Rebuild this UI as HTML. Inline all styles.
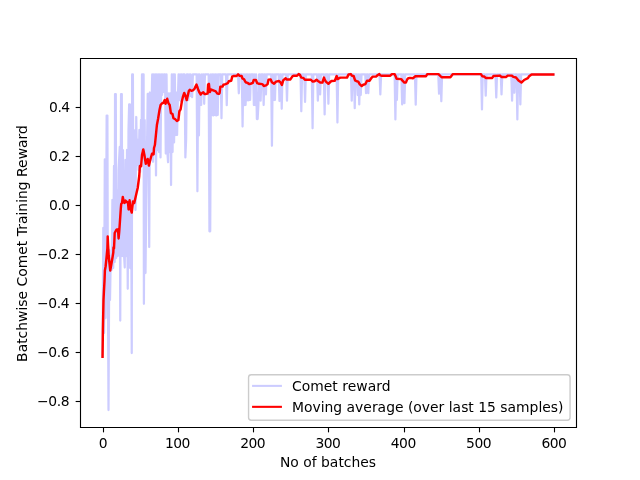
<!DOCTYPE html>
<html lang="en"><head><meta charset="utf-8"><title>Comet training reward</title>
<style>html,body{margin:0;padding:0;background:#fff}body{width:640px;height:480px;overflow:hidden}svg{display:block}text{font-family:"DejaVu Sans","Liberation Sans",sans-serif;font-size:13.889px;fill:#000}</style></head><body>
<svg width="640" height="480" viewBox="0 0 640 480">
<rect width="640" height="480" fill="#fff"/>
<clipPath id="c"><rect x="80" y="57.6" width="496" height="369.6"/></clipPath>
<g clip-path="url(#c)" fill="none" stroke-linejoin="round" stroke-linecap="square" stroke-width="2.083">
<polyline stroke="#0000ff" stroke-opacity="0.2" stroke-width="2.25" points="102.55,356.70 103.30,228.00 104.05,333.00 104.80,159.40 105.56,318.00 106.30,200.00 106.65,115.60 107.40,115.60 107.80,260.00 108.50,410.00 109.30,250.00 110.00,300.00 110.80,256.00 111.60,270.00 112.40,200.00 113.20,268.00 114.00,166.00 114.70,262.00 115.05,94.00 115.80,94.00 116.20,258.00 117.00,190.00 117.80,256.00 118.60,170.00 119.75,147.00 120.25,320.50 121.05,94.00 121.80,94.00 122.20,256.00 123.00,150.00 123.80,251.00 124.75,267.50 125.50,160.00 126.30,256.00 127.00,150.00 127.75,288.75 128.50,130.00 129.15,104.40 129.90,104.40 130.20,268.00 131.00,140.00 131.75,353.00 132.15,74.40 132.90,74.40 133.30,200.00 134.00,130.00 134.75,170.00 135.50,210.00 136.25,117.00 137.00,165.00 137.80,140.00 138.60,170.00 139.40,130.00 140.20,172.00 141.00,120.00 141.60,150.00 142.00,74.40 142.90,74.40 143.60,74.40 143.90,303.75 144.70,120.00 145.50,273.00 146.30,200.00 147.72,93.90 148.47,93.90 149.22,247.00 149.98,92.50 150.73,160.00 151.48,110.00 152.23,74.40 152.99,161.80 153.74,74.40 154.49,150.00 155.25,74.40 156.00,175.40 156.75,74.40 157.50,150.00 158.26,74.40 159.01,152.00 159.76,74.40 160.52,157.40 161.27,74.40 162.02,95.00 162.77,74.40 163.53,92.00 164.28,74.40 165.03,74.40 165.79,153.50 166.54,74.40 167.29,150.00 168.04,162.25 168.80,93.40 169.55,152.00 170.30,93.40 171.05,185.00 171.81,74.40 172.56,152.00 173.31,74.40 174.07,142.40 174.82,74.40 175.57,135.00 176.32,92.50 177.08,135.00 177.83,100.00 178.58,74.40 179.34,100.00 180.09,74.40 180.84,101.00 181.59,74.40 182.35,100.00 183.10,74.40 183.85,74.40 184.61,74.40 185.36,157.40 186.11,139.75 186.86,74.40 187.62,74.40 188.37,100.00 189.12,74.40 189.87,96.00 190.63,74.40 191.38,96.00 192.13,97.00 192.89,74.40 193.64,74.40 194.39,74.40 195.14,74.40 195.90,74.40 196.65,74.40 197.40,191.25 198.16,74.40 198.91,135.40 199.66,74.40 200.41,90.00 201.17,105.00 201.92,74.40 202.67,92.00 203.43,74.40 204.18,103.80 204.93,74.40 205.68,74.40 206.44,74.40 207.19,74.40 207.94,74.40 208.69,74.40 209.45,231.25 210.20,231.25 210.95,74.40 211.71,115.00 212.46,74.40 213.21,115.50 213.96,74.40 214.72,115.00 215.47,74.40 216.22,115.50 216.98,74.40 217.73,115.00 218.48,74.40 219.23,74.40 219.99,74.40 220.74,74.40 221.49,118.25 222.25,74.40 223.00,74.40 223.75,74.40 224.50,74.40 225.26,74.40 226.01,74.40 226.76,105.10 227.51,74.40 228.27,74.40 229.02,74.40 229.77,74.40 230.53,74.40 231.28,74.40 232.03,74.40 232.78,74.40 233.54,74.40 234.29,74.40 235.04,74.40 235.80,74.40 236.55,74.40 237.30,74.40 238.05,74.40 238.81,93.30 239.56,74.40 240.31,74.40 241.07,74.40 241.82,74.40 242.57,126.50 243.32,74.40 244.08,105.10 244.83,74.40 245.58,105.00 246.33,74.40 247.09,100.30 247.84,74.40 248.59,100.30 249.35,74.40 250.10,100.00 250.85,74.40 251.60,74.40 252.36,74.40 253.11,74.40 253.86,105.00 254.62,74.40 255.37,105.00 256.12,74.40 256.87,119.00 257.63,119.00 258.38,105.00 259.13,74.40 259.89,74.40 260.64,100.60 261.39,74.40 262.14,74.40 262.90,74.40 263.65,105.00 264.40,74.40 265.15,74.40 265.91,94.40 266.66,74.40 267.41,74.40 268.17,74.40 268.92,74.40 269.67,74.40 270.42,74.40 271.18,74.40 271.93,145.75 272.68,74.40 273.44,100.00 274.19,74.40 274.94,100.00 275.69,74.40 276.45,74.40 277.20,74.40 277.95,74.40 278.71,74.40 279.46,101.00 280.21,74.40 280.96,74.40 281.72,108.75 282.47,74.40 283.22,74.40 283.97,74.40 284.73,74.40 285.48,74.40 286.23,74.40 286.99,100.60 287.74,74.40 288.49,74.40 289.24,74.40 290.00,74.40 290.75,74.40 291.50,74.40 292.26,74.40 293.01,74.40 293.76,74.40 294.51,74.40 295.27,74.40 296.02,74.40 296.77,74.40 297.53,74.40 298.28,74.40 299.03,74.40 299.78,74.40 300.54,74.40 301.29,111.25 302.04,74.40 302.79,74.40 303.55,74.40 304.30,74.40 305.05,101.90 305.81,74.40 306.56,74.40 307.31,74.40 308.06,74.40 308.82,74.40 309.57,74.40 310.32,74.40 311.08,74.40 311.83,74.40 312.58,128.25 313.33,74.40 314.09,74.40 314.84,74.40 315.59,74.40 316.35,74.40 317.10,74.40 317.85,100.60 318.60,74.40 319.36,74.40 320.11,94.40 320.86,74.40 321.61,74.40 322.37,74.40 323.12,74.40 323.87,74.40 324.63,114.40 325.38,74.40 326.13,74.40 326.88,74.40 327.64,74.40 328.39,103.75 329.14,74.40 329.90,74.40 330.65,74.40 331.40,74.40 332.15,74.40 332.91,74.40 333.66,74.40 334.41,74.40 335.17,74.40 335.92,74.40 336.67,74.40 337.42,122.50 338.18,74.40 338.93,74.40 339.68,74.40 340.43,74.40 341.19,74.40 341.94,74.40 342.69,74.40 343.45,74.40 344.20,74.40 344.95,74.40 345.70,74.40 346.46,74.40 347.21,74.40 347.96,74.40 348.72,74.40 349.47,74.40 350.22,74.40 350.97,74.40 351.73,100.60 352.48,74.40 353.23,74.40 353.99,74.40 354.74,108.10 355.49,74.40 356.24,74.40 357.00,74.40 357.75,95.00 358.50,74.40 359.25,104.40 360.01,74.40 360.76,95.00 361.51,74.40 362.27,74.40 363.02,74.40 363.77,74.40 364.52,74.40 365.28,74.40 366.03,93.10 366.78,74.40 367.54,74.40 368.29,93.10 369.04,74.40 369.79,74.40 370.55,74.40 371.30,74.40 372.05,74.40 372.81,74.40 373.56,74.40 374.31,74.40 375.06,74.40 375.82,74.40 376.57,74.40 377.32,74.40 378.07,74.40 378.83,74.40 379.58,74.40 380.33,94.40 381.09,74.40 381.84,74.40 382.59,74.40 383.34,74.40 384.10,74.40 384.85,74.40 385.60,74.40 386.36,74.40 387.11,74.40 387.86,74.40 388.61,74.40 389.37,74.40 390.12,74.40 390.87,74.40 391.63,74.40 392.38,74.40 393.13,74.40 393.88,74.40 394.64,74.40 395.39,119.40 396.14,74.40 396.89,100.00 397.65,74.40 398.40,74.40 399.15,74.40 399.91,74.40 400.66,74.40 401.41,74.40 402.16,104.40 402.92,74.40 403.67,74.40 404.42,103.10 405.18,74.40 405.93,74.40 406.68,74.40 407.43,74.40 408.19,74.40 408.94,74.40 409.69,74.40 410.45,74.40 411.20,74.40 411.95,74.40 412.70,74.40 413.46,74.40 414.21,74.40 414.96,74.40 415.71,104.70 416.47,74.40 417.22,74.40 417.97,74.40 418.73,74.40 419.48,74.40 420.23,74.40 420.98,74.40 421.74,74.40 422.49,74.40 423.24,74.40 424.00,74.40 424.75,74.40 425.50,74.40 426.25,74.40 427.01,74.40 427.76,74.40 428.51,74.40 429.27,74.40 430.02,74.40 430.77,74.40 431.52,74.40 432.28,74.40 433.03,74.40 433.78,74.40 434.53,74.40 435.29,74.40 436.04,74.40 436.79,74.40 437.55,74.40 438.30,74.40 439.05,93.75 439.80,74.40 440.56,74.40 441.31,101.25 442.06,74.40 442.82,74.40 443.57,74.40 444.32,74.40 445.07,74.40 445.83,74.40 446.58,74.40 447.33,74.40 448.09,74.40 448.84,74.40 449.59,74.40 450.34,74.40 451.10,74.40 451.85,74.40 452.60,74.40 453.35,74.40 454.11,74.40 454.86,74.40 455.61,74.40 456.37,74.40 457.12,74.40 457.87,74.40 458.62,74.40 459.38,74.40 460.13,74.40 460.88,74.40 461.64,74.40 462.39,74.40 463.14,74.40 463.89,74.40 464.65,74.40 465.40,74.40 466.15,74.40 466.91,74.40 467.66,74.40 468.41,74.40 469.16,74.40 469.92,74.40 470.67,74.40 471.42,74.40 472.17,74.40 472.93,74.40 473.68,74.40 474.43,74.40 475.19,74.40 475.94,74.40 476.69,74.40 477.44,74.40 478.20,74.40 478.95,74.40 479.70,74.40 480.46,74.40 481.21,74.40 481.96,109.40 482.71,74.40 483.47,74.40 484.22,74.40 484.97,74.40 485.73,95.60 486.48,74.40 487.23,74.40 487.98,74.40 488.74,74.40 489.49,74.40 490.24,74.40 490.99,74.40 491.75,74.40 492.50,74.40 493.25,74.40 494.01,74.40 494.76,74.40 495.51,74.40 496.26,97.50 497.02,74.40 497.77,74.40 498.52,74.40 499.28,74.40 500.03,74.40 500.78,74.40 501.53,94.40 502.29,74.40 503.04,74.40 503.79,74.40 504.55,74.40 505.30,74.40 506.05,74.40 506.80,74.40 507.56,74.40 508.31,74.40 509.06,74.40 509.81,74.40 510.57,74.40 511.32,74.40 512.07,100.60 512.83,74.40 513.58,74.40 514.33,92.75 515.08,74.40 515.84,74.40 516.59,74.40 517.34,119.40 518.10,74.40 518.85,90.00 519.60,74.40 520.35,104.40 521.11,74.40 521.86,74.40 522.61,74.40 523.37,74.40 524.12,74.40 524.87,74.40 525.62,74.40 526.38,74.40 527.13,74.40 527.88,74.40 528.63,74.40 529.39,74.40 530.14,74.40 530.89,74.40 531.65,74.40 532.40,74.40 533.15,74.40 533.90,74.40 534.66,74.40 535.41,74.40 536.16,74.40 536.92,74.40 537.67,74.40 538.42,74.40 539.17,74.40 539.93,74.40 540.68,74.40 541.43,74.40 542.19,74.40 542.94,74.40 543.69,74.40 544.44,74.40 545.20,74.40 545.95,74.40 546.70,74.40 547.45,74.40 548.21,74.40 548.96,74.40 549.71,74.40 550.47,74.40 551.22,74.40 551.97,74.40 552.72,74.40 553.48,74.40"/>
<polyline stroke="#ff0000" stroke-width="2.45" points="102.55,356.70 102.90,330.00 103.50,300.00 103.90,292.00 104.50,281.00 104.90,270.50 105.60,266.50 106.60,257.00 107.40,248.00 107.70,236.50 108.10,245.00 108.70,256.00 110.25,270.50 111.30,264.50 112.50,257.50 113.30,252.50 113.50,247.50 114.00,248.50 114.40,240.00 114.70,233.00 116.00,230.50 116.75,229.40 118.00,229.50 118.60,238.50 119.20,232.00 119.90,222.00 120.80,208.75 121.20,204.00 122.00,203.00 122.80,196.90 123.60,201.00 124.50,203.00 125.50,200.60 126.80,202.00 128.00,202.50 128.60,209.40 129.60,200.30 130.50,208.75 131.75,212.50 133.00,201.50 134.25,203.00 135.50,197.50 136.75,192.00 137.70,188.00 139.25,176.00 139.90,166.00 141.10,166.25 142.00,155.00 143.30,149.40 144.40,155.00 145.80,163.75 147.70,159.00 148.90,165.60 150.20,160.00 152.00,153.75 153.60,154.40 154.00,148.00 154.90,145.00 156.90,125.00 158.10,118.75 159.40,110.60 160.60,105.00 161.90,103.40 163.40,102.80 164.70,100.00 165.60,103.75 167.20,98.75 168.40,103.10 169.70,105.00 170.90,113.10 172.50,114.00 173.40,118.10 175.00,119.00 176.90,121.00 178.40,120.00 179.40,111.25 180.60,109.40 181.90,101.25 182.90,97.00 184.25,93.00 185.50,96.00 186.70,100.10 187.80,95.50 188.90,90.75 189.80,89.80 191.40,90.75 192.90,90.40 194.50,88.90 195.50,86.50 196.50,84.50 197.30,87.00 198.10,89.20 199.20,92.00 200.75,94.50 202.00,93.00 203.25,92.30 204.50,93.90 206.10,93.90 207.60,93.60 208.10,84.50 208.90,83.90 209.50,89.50 209.90,92.00 210.75,89.50 213.25,90.40 215.75,91.40 217.30,93.60 218.90,93.90 219.60,93.00 220.30,86.60 222.50,86.60 223.40,84.75 225.60,84.10 227.80,83.20 228.75,81.30 231.25,80.70 232.20,76.60 233.40,76.00 236.60,76.00 238.10,74.40 239.40,75.70 241.60,76.00 242.50,78.50 244.10,79.40 245.60,82.25 247.50,82.90 249.40,84.10 251.25,83.50 252.80,82.90 253.75,80.00 255.90,80.00 257.25,83.20 259.00,83.80 262.25,84.10 263.80,86.00 266.00,85.40 267.60,84.10 268.50,79.75 270.70,79.40 271.90,82.25 274.10,83.80 276.00,81.60 279.10,81.00 280.70,82.60 281.90,85.00 283.20,80.40 285.70,78.20 286.60,79.40 290.40,79.40 292.25,76.60 293.50,75.70 297.10,75.70 298.70,74.10 299.90,74.80 301.20,77.60 303.40,77.90 304.90,79.75 310.90,79.75 312.75,81.60 314.60,81.30 316.50,79.75 318.00,81.00 320.25,82.60 322.40,82.60 323.40,79.40 324.00,77.60 324.60,79.40 325.90,81.60 328.40,83.80 330.25,82.00 331.50,81.00 334.80,80.70 336.00,77.60 336.70,76.00 337.60,79.10 339.20,78.20 340.40,77.60 347.00,77.60 348.60,74.40 350.75,74.10 352.00,75.70 353.60,76.00 355.10,80.40 356.70,81.30 358.25,81.60 359.80,84.40 361.70,86.00 363.25,84.75 365.40,84.10 367.00,80.70 369.50,80.70 371.25,78.20 372.80,76.60 376.00,76.60 377.80,75.00 379.40,74.10 380.30,75.40 381.90,75.70 390.30,75.70 391.90,74.10 394.70,74.10 395.60,76.30 396.60,78.80 401.25,79.10 402.50,80.70 404.40,82.60 405.90,82.60 407.20,79.40 408.40,78.20 410.00,77.90 412.90,78.20 415.40,76.25 426.00,76.25 427.25,74.10 438.50,74.10 441.60,77.25 450.40,77.25 452.90,74.10 481.00,74.10 482.25,76.25 484.10,76.50 485.75,77.90 492.25,77.90 493.50,76.00 499.75,75.60 501.60,76.90 506.00,76.90 507.90,75.60 511.60,75.60 513.50,76.90 516.00,77.50 518.50,80.60 521.40,82.50 523.50,80.60 524.10,80.00 527.90,78.10 529.10,76.25 531.60,74.40 553.30,74.40"/>
</g>
<g stroke="#000" stroke-width="1.111" fill="none">
<line x1="103.5" y1="427.5" x2="103.5" y2="432.36"/>
<line x1="178.5" y1="427.5" x2="178.5" y2="432.36"/>
<line x1="253.5" y1="427.5" x2="253.5" y2="432.36"/>
<line x1="328.5" y1="427.5" x2="328.5" y2="432.36"/>
<line x1="404.5" y1="427.5" x2="404.5" y2="432.36"/>
<line x1="479.5" y1="427.5" x2="479.5" y2="432.36"/>
<line x1="554.5" y1="427.5" x2="554.5" y2="432.36"/>
<line x1="80.5" y1="107.5" x2="75.64" y2="107.5"/>
<line x1="80.5" y1="156.5" x2="75.64" y2="156.5"/>
<line x1="80.5" y1="205.5" x2="75.64" y2="205.5"/>
<line x1="80.5" y1="254.5" x2="75.64" y2="254.5"/>
<line x1="80.5" y1="303.5" x2="75.64" y2="303.5"/>
<line x1="80.5" y1="352.5" x2="75.64" y2="352.5"/>
<line x1="80.5" y1="401.5" x2="75.64" y2="401.5"/>
<path stroke-linecap="square" stroke-linejoin="miter" d="M80.5 58.5H576.5V427.5H80.5Z"/>
</g>
<g>
<text x="98.85" y="447.6" textLength="8.75">0</text>
<text x="164.98" y="447.6" textLength="25.4">100</text>
<text x="240.26" y="447.6" textLength="25.4">200</text>
<text x="315.54" y="447.6" textLength="25.4">300</text>
<text x="390.82" y="447.6" textLength="25.4">400</text>
<text x="466.10" y="447.6" textLength="25.4">500</text>
<text x="541.38" y="447.6" textLength="25.4">600</text>
</g><g>
<text x="49.10" y="111.88" textLength="21.0">0.4</text>
<text x="49.10" y="160.98" textLength="21.0">0.2</text>
<text x="49.10" y="210.08" textLength="21.0">0.0</text>
<text x="37.00" y="259.18" textLength="32.5">−0.2</text>
<text x="37.00" y="308.28" textLength="32.5">−0.4</text>
<text x="37.00" y="357.38" textLength="32.5">−0.6</text>
<text x="37.00" y="406.48" textLength="32.5">−0.8</text>
</g>
<text x="279.94" y="467.2" textLength="96.12">No of batches</text>
<text transform="translate(26.8 361.9) rotate(-90)" textLength="236.75">Batchwise Comet Training Reward</text>
<rect x="248.56" y="374.7" width="321.5" height="45.56" rx="2.78" ry="2.78" fill="#fff" fill-opacity="0.8" stroke="#ccc" stroke-width="1.389"/>
<g stroke-width="2.083" stroke-linecap="square" fill="none">
<line x1="253.11" y1="385.89" x2="280.89" y2="385.89" stroke="#0000ff" stroke-opacity="0.2"/>
<line x1="253.11" y1="406.84" x2="280.89" y2="406.84" stroke="#ff0000"/>
</g>
<text x="292" y="390.76" textLength="98.5">Comet reward</text>
<text x="292" y="411.7" textLength="271.5">Moving average (over last 15 samples)</text>
</svg></body></html>
